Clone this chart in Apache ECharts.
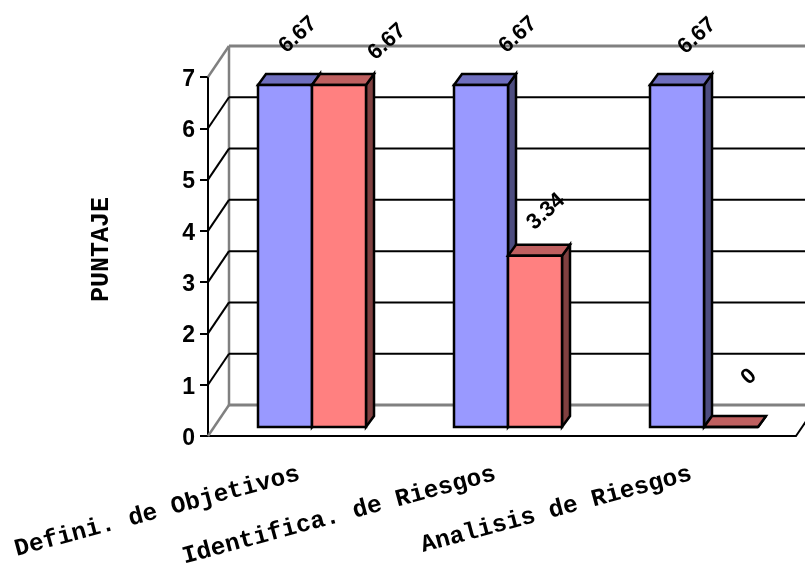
<!DOCTYPE html>
<html>
<head>
<meta charset="utf-8">
<style>html,body{margin:0;padding:0;background:#fff}#chart{width:805px;height:573px}</style>
<script src="https://cdn.jsdelivr.net/npm/echarts@6/dist/echarts.min.js"></script>
</head>
<body>
<div id="chart"></div>
<script>
// Scores per evaluation category
const categories = ['Defini. de Objetivos', 'Identifica. de Riesgos', 'Analisis de Riesgos'];
const seriesBlue = [6.67, 6.67, 6.67];
const seriesRed = [6.67, 3.34, 0];
const wallTicks = [0, 1, 2, 3, 4, 5, 6, 7];
const axisTitle = 'PUNTAJE';

// Pseudo-3D projection, in pixels
const WALL = [21, -31];      // front axis plane to back wall
const BAR_FRONT = [6, -9];   // front axis plane to front of the bars
const BAR_DEPTH = [8, -11];  // thickness of a bar
const BAR_W = 54;
const LINE = 2;
const BAR_LINE = 2.5;

// Hand placement of the rotated value labels, relative to each bar's front top centre
const blueLabelShift = [[13, -50], [37, -50], [20, -49]];
const redLabelShift = [[48, -43], [11, -44], [18, -50]];

const blueFaces = { front: '#9999ff', top: '#6f6fbf', side: '#4d4d80' };
const redFaces = { front: '#ff8080', top: '#bf6060', side: '#804040' };
const GREY = '#808080';

function poly(points, fill) {
  return {
    type: 'polygon',
    shape: { points },
    style: { fill, stroke: '#000', lineWidth: BAR_LINE, lineJoin: 'miter' }
  };
}
function seg(x1, y1, x2, y2, color, width) {
  return {
    type: 'line',
    shape: { x1, y1, x2, y2 },
    style: { stroke: color, lineWidth: width }
  };
}

// Back wall: one grid line and one side-wall diagonal per tick
function renderWall(params, api) {
  const v = api.value(0);
  const band = api.size([1, 0])[0];
  const left = api.coord([0, v]);
  const right = api.coord([categories.length - 1, v]);
  const x0 = left[0] - band / 2;
  const x1 = right[0] + band / 2;
  const y = left[1];
  const edge = v === 0 || v === wallTicks[wallTicks.length - 1];
  const color = edge ? GREY : '#000';
  const width = edge ? 3 : LINE;
  const children = [
    seg(x0 + WALL[0], y + WALL[1], x1 + WALL[0], y + WALL[1], color, width),
    seg(x0, y, x0 + WALL[0], y + WALL[1], color, edge ? 2.5 : LINE)
  ];
  if (v === 0) {
    children.push(seg(x1, y, x1 + WALL[0], y + WALL[1], '#000', LINE));
    const top = api.coord([0, wallTicks[wallTicks.length - 1]])[1];
    children.push(seg(x0 + WALL[0], y + WALL[1], x0 + WALL[0], top + WALL[1], GREY, 2.5));
  }
  return { type: 'group', children };
}

function barRenderer(faces, side, shifts) {
  return function (params, api) {
    const i = api.value(0);
    const v = api.value(1);
    const c = api.coord([i, v]);
    const base = api.coord([i, 0]);
    const x0 = c[0] + BAR_FRONT[0] + (side < 0 ? -BAR_W : 0);
    const x1 = x0 + BAR_W;
    const yt = c[1] + BAR_FRONT[1];
    const yb = base[1] + BAR_FRONT[1];
    const dx = BAR_DEPTH[0];
    const dy = BAR_DEPTH[1];
    const shift = shifts[i];
    return {
      type: 'group',
      children: [
        poly([[x1, yt], [x1 + dx, yt + dy], [x1 + dx, yb + dy], [x1, yb]], faces.side),
        poly([[x0, yt], [x0 + dx, yt + dy], [x1 + dx, yt + dy], [x1, yt]], faces.top),
        poly([[x0, yt], [x1, yt], [x1, yb], [x0, yb]], faces.front),
        {
          type: 'text',
          x: (x0 + x1) / 2 + shift[0],
          y: yt + shift[1],
          rotation: 42 * Math.PI / 180,
          style: {
            text: String(v),
            fill: '#000',
            font: 'bold 22px "Liberation Sans", Arial, sans-serif',
            align: 'center',
            verticalAlign: 'middle'
          }
        }
      ]
    };
  };
}

const chart = echarts.init(document.getElementById('chart'), null, { renderer: 'canvas' });
chart.setOption({
  animation: false,
  backgroundColor: '#fff',
  grid: { left: 208, right: 9, top: 77, bottom: 137, outerBoundsMode: 'none' },
  xAxis: {
    type: 'category',
    data: categories,
    axisLine: { lineStyle: { color: '#000', width: LINE } },
    axisTick: { length: 8, lineStyle: { color: '#000', width: LINE } },
    axisLabel: {
      rotate: 15,
      interval: 0,
      margin: 36,
      padding: [0, 7, 0, 0],
      color: '#000',
      fontFamily: '"Liberation Mono", "Courier New", monospace',
      fontWeight: 'bold',
      fontSize: 24.5
    },
    splitLine: { show: false }
  },
  yAxis: {
    type: 'value',
    min: 0,
    max: 7,
    interval: 1,
    name: axisTitle,
    nameLocation: 'middle',
    nameGap: 94,
    nameRotate: 90,
    nameTextStyle: {
      color: '#000',
      fontFamily: '"Liberation Mono", "Courier New", monospace',
      fontWeight: 'bold',
      fontSize: 25,
      padding: [0, 0, 0, 14]
    },
    axisLine: { show: true, lineStyle: { color: '#000', width: LINE } },
    axisTick: { show: true, length: 8, lineStyle: { color: '#000', width: LINE } },
    axisLabel: {
      margin: 13,
      formatter: '{d|{value}}',
      rich: {
        d: {
          padding: [5, 0, 0, 0],
          color: '#000',
          fontFamily: '"Liberation Sans", Arial, sans-serif',
          fontWeight: 'bold',
          fontSize: 23
        }
      }
    },
    splitLine: { show: false }
  },
  series: [
    {
      type: 'custom',
      name: 'wall',
      clip: false,
      silent: true,
      z: 1,
      coordinateSystem: 'cartesian2d',
      encode: { x: -1, y: 0 },
      data: wallTicks.map(v => [v]),
      renderItem: renderWall
    },
    {
      type: 'custom',
      name: 'Serie azul',
      clip: false,
      z: 3,
      encode: { x: 0, y: 1 },
      data: seriesBlue.map((v, i) => [i, v]),
      renderItem: barRenderer(blueFaces, -1, blueLabelShift)
    },
    {
      type: 'custom',
      name: 'Serie roja',
      clip: false,
      z: 4,
      encode: { x: 0, y: 1 },
      data: seriesRed.map((v, i) => [i, v]),
      renderItem: barRenderer(redFaces, 1, redLabelShift)
    }
  ]
});
</script>
</body>
</html>
